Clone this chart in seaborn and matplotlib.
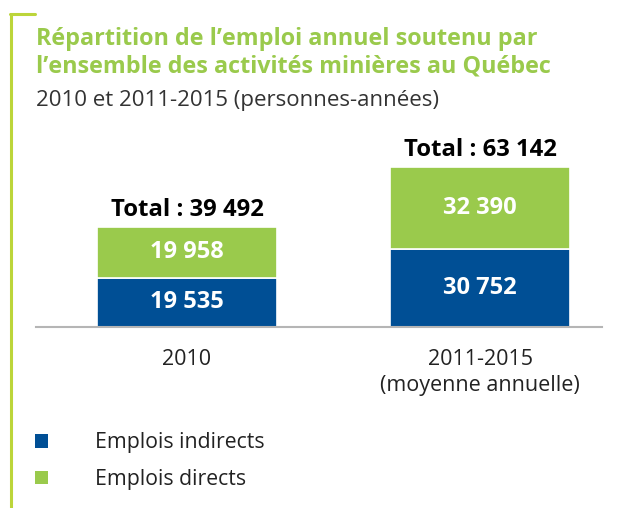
import matplotlib
matplotlib.use("Agg")
import matplotlib.pyplot as plt
from matplotlib.patches import Patch
from matplotlib.lines import Line2D
import seaborn as sns
import pandas as pd

# --- Data ---
PERIODS = ["2010", "2011-2015"]
TICK_LABELS = ["2010", "2011-2015\n(moyenne annuelle)"]
INDIRECT = [19535, 30752]
DIRECT = [19958, 32390]
TOTALS = [39492, 63142]  # as printed on the chart (rounded)
SERIES_LABELS = ["Emplois indirects", "Emplois directs"]

TITLE = "Répartition de l’emploi annuel soutenu par\nl’ensemble des activités minières au Québec"
SUBTITLE = "2010 et 2011-2015 (personnes-années)"

# --- Style ---
BLUE = "#004f95"
GREEN = "#9aca4c"
BORDER = "#bcd53a"
FONT = ["Open Sans", "DejaVu Sans"]


def fmt(v):
    return f"{v:,}".replace(",", " ")


def main():
    sns.set_theme(style="white")
    plt.rcParams["font.family"] = FONT

    df = pd.DataFrame({"period": PERIODS, "indirect": INDIRECT, "direct": DIRECT,
                       "total": TOTALS})

    fig = plt.figure(figsize=(6.4, 5.08), dpi=100)
    ax = fig.add_axes([36 / 640, 181 / 508, 566 / 640, 207 / 508])

    bar_w = 0.614
    sns.barplot(data=df, x="period", y="indirect", order=PERIODS, color=BLUE,
                saturation=1, width=bar_w, edgecolor="white", linewidth=1.2, ax=ax)
    sns.barplot(data=df, x="period", y="direct", order=PERIODS, color=GREEN,
                saturation=1, width=bar_w, bottom=df["indirect"].values,
                edgecolor="white", linewidth=1.2, ax=ax)

    # segment labels and totals
    for i, row in df.iterrows():
        ax.text(i, row["indirect"] / 2, fmt(row["indirect"]), ha="center", va="center",
                color="white", fontsize=17, fontweight="bold")
        ax.text(i, row["indirect"] + row["direct"] / 2, fmt(row["direct"]), ha="center",
                va="center", color="white", fontsize=17, fontweight="bold")
        ax.text(i, row["indirect"] + row["direct"] + 2100, f"Total : {fmt(row['total'])}",
                ha="center", va="bottom", color="black", fontsize=17.2, fontweight="bold")

    ax.set_xlim(-0.515, 1.416)
    ax.set_ylim(0, 81800)
    ax.set_xticks(range(len(PERIODS)))
    ax.set_xticklabels(TICK_LABELS, fontsize=15.5, color="#222222", linespacing=1.3)
    ax.tick_params(axis="x", length=0, pad=16)
    ax.set_yticks([])
    ax.set_xlabel("")
    ax.set_ylabel("")
    for side in ["top", "left", "right"]:
        ax.spines[side].set_visible(False)
    ax.spines["bottom"].set_color("#b5b5b5")
    ax.spines["bottom"].set_linewidth(1.5)

    # title block
    fig.text(36 / 640, 1 - 27 / 508, TITLE, ha="left", va="top", color=GREEN,
             fontsize=16.8, fontweight="bold", linespacing=1.2)
    fig.text(36 / 640, 1 - 90 / 508, SUBTITLE, ha="left", va="top", color="#333333",
             fontsize=16)

    # left border bracket
    fig.add_artist(Line2D([11 / 640, 11 / 640], [0, 1 - 14 / 508], color=BORDER,
                          lw=2.2, transform=fig.transFigure))
    fig.add_artist(Line2D([10 / 640, 35 / 640], [1 - 14 / 508, 1 - 14 / 508], color=BORDER,
                          lw=2.2, transform=fig.transFigure))

    # legend
    handles = [Patch(facecolor=BLUE, edgecolor="none"), Patch(facecolor=GREEN, edgecolor="none")]
    fig.legend(handles, SERIES_LABELS, loc="upper left", bbox_to_anchor=(16 / 640, 1 - 413 / 508),
               frameon=False, fontsize=15.3, handlelength=0.62, handleheight=0.62,
               handletextpad=2.2, labelspacing=0.75, labelcolor="#222222")

    fig.savefig("out.png", dpi=100)
    plt.close(fig)


if __name__ == "__main__":
    main()
